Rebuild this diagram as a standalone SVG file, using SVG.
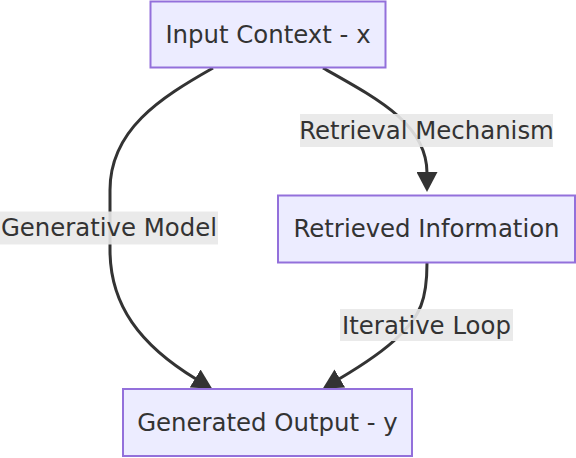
<svg xmlns="http://www.w3.org/2000/svg" width="576" height="458" viewBox="0 0 576 458">
  <style>
    .node rect { fill: #ECECFF; stroke: #9370DB; stroke-width: 2; }
    .node text, .label text { font-family: "DejaVu Sans", "Liberation Sans", sans-serif; font-size: 24.4px; fill: #333333; text-anchor: middle; }
    .edge { fill: none; stroke: #333333; stroke-width: 3; marker-end: url(#arrow); }
    .label rect { fill: #e8e8e8; fill-opacity: 0.9; stroke: none; }
  </style>
  <defs>
    <marker id="arrow" markerUnits="userSpaceOnUse" viewBox="0 0 20 21" markerWidth="20" markerHeight="21" refX="1" refY="10.5" orient="auto">
      <path d="M0,0 L20,10.5 L0,21 z" fill="#333333"/>
    </marker>
  </defs>
  <rect width="576" height="458" fill="#ffffff"/>
  <g id="connectors">
    <path class="edge" d="M213,68 C160,98 110,130 110,190 L110,250 C110,305 140,345 196,379"/>
    <path class="edge" d="M323,68 C380,100 427,125 427,173"/>
    <path class="edge" d="M427,263 C427,300 420,316 399,336 C386,349 366,363 339,379"/>
  </g>
  <g id="edge-labels">
    <g class="label" id="label-retrieval">
      <rect x="300" y="114" width="253" height="33"/>
      <text x="426.5" y="138.5">Retrieval Mechanism</text>
    </g>
    <g class="label" id="label-generative">
      <rect x="0" y="211.5" width="218" height="33"/>
      <text x="109" y="236">Generative Model</text>
    </g>
    <g class="label" id="label-iterative">
      <rect x="340" y="309" width="173" height="32"/>
      <text x="426.5" y="333.5">Iterative Loop</text>
    </g>
  </g>
  <g class="node" id="node-input">
    <rect x="150.5" y="1.5" width="235" height="66"/>
    <text x="268" y="43">Input Context - x</text>
  </g>
  <g class="node" id="node-retrieved">
    <rect x="278" y="195.5" width="297" height="67"/>
    <text x="426.5" y="237">Retrieved Information</text>
  </g>
  <g class="node" id="node-generated">
    <rect x="123" y="389" width="289" height="67"/>
    <text x="267.5" y="430.5">Generated Output - y</text>
  </g>
</svg>
